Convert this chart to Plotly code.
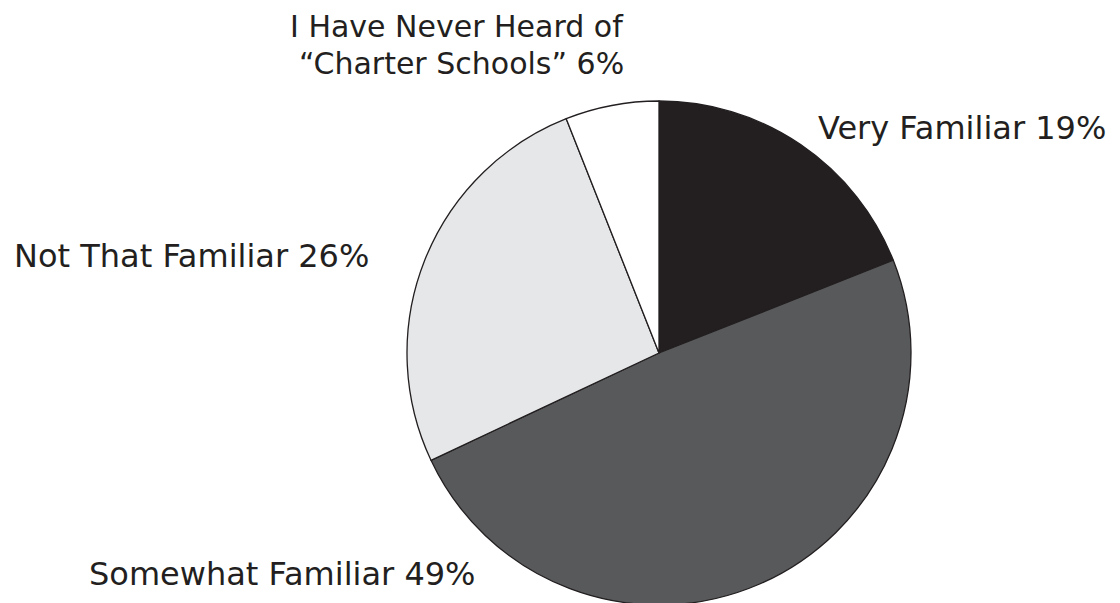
import plotly.graph_objects as go

categories = ["Very Familiar", "Somewhat Familiar", "Not That Familiar", "I Have Never Heard of<br>“Charter Schools”"]
values = [19, 49, 26, 6]
colors = ["#231f20", "#58595b", "#e6e7e8", "#ffffff"]

W, H = 1120, 603
OFF = 8  # page body margin
fig = go.Figure(go.Pie(
    labels=categories, values=values, sort=False, direction="clockwise", rotation=0,
    marker=dict(colors=colors, line=dict(color="#231f20", width=1.3)),
    textinfo="none", hoverinfo="label+percent", showlegend=False,
    domain=dict(x=[(407 - OFF) / W, (911 - OFF) / W], y=[1 - (605 - OFF) / H, 1 - (101 - OFF) / H]),
))

# (x px, [y px per line], anchor, font size)
label_pos = [
    (817, [128], "left", 32),
    (88, [574], "left", 32),
    (13, [256], "left", 32),
    (625, [27, 63], "right", 30),
]
for (px, pys, anchor, fs), cat, v in zip(label_pos, categories, values):
    lines = f"{cat} {v}%".split("<br>")
    for line, py in zip(lines, pys):
        fig.add_annotation(
            x=(px - OFF) / W, y=1 - (py - OFF) / H, xref="paper", yref="paper",
            text=line, showarrow=False, xanchor=anchor, yanchor="middle",
            align=anchor, borderpad=0,
            font=dict(family="DejaVu Sans, sans-serif", size=fs, color="#231f20"),
        )

fig.update_layout(width=W, height=H, margin=dict(l=0, r=0, t=0, b=0),
                  paper_bgcolor="white", plot_bgcolor="white")
fig.write_html("out.html")
